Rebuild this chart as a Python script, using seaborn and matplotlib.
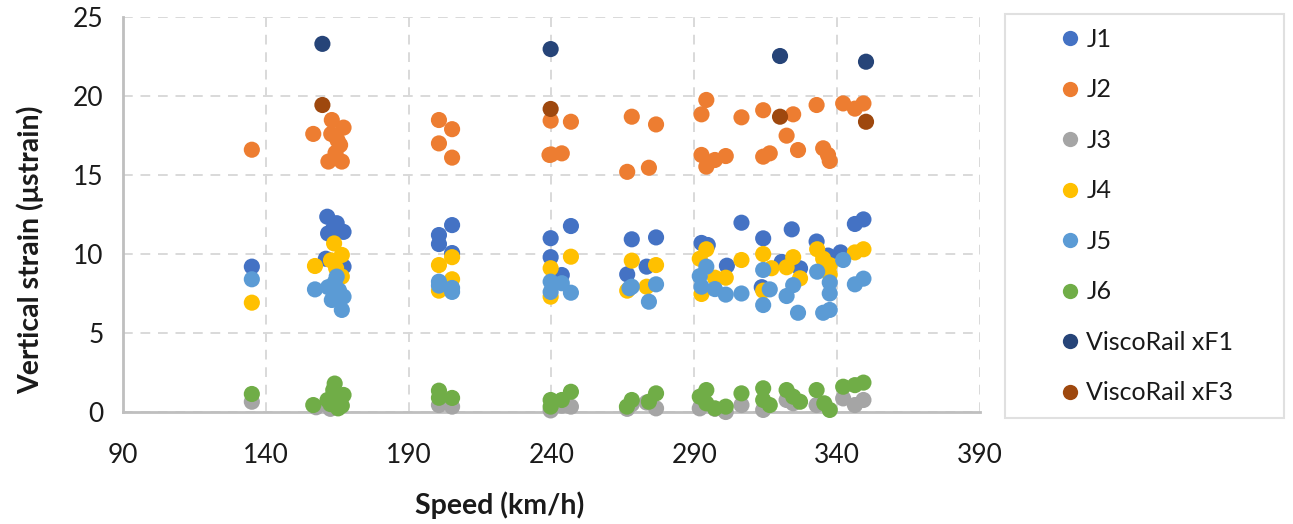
import numpy as np
import pandas as pd
import seaborn as sns
import matplotlib
matplotlib.use("Agg")
import matplotlib.pyplot as plt
from matplotlib.lines import Line2D

# ---- data ----
series_names = ["J1", "J2", "J3", "J4", "J5", "J6", "ViscoRail xF1", "ViscoRail xF3"]
series_colors = ["#4472C4", "#ED7D31", "#A5A5A5", "#FFC000", "#5B9BD5", "#70AD47", "#264478", "#9E480E"]

j1_speed = [135.1, 161.5, 164.8, 167.2, 161.8, 167.2, 161.0, 163.6, 165.6,
            200.6, 200.6, 205.2, 205.2, 239.7, 239.7, 243.6, 246.8,
            268.1, 276.6, 266.5, 273.3, 292.5, 294.7, 301.4, 306.5,
            314.1, 324.1, 332.8, 346.2, 349.2, 320.6, 327.0, 336.8, 341.2, 313.6]
j1_strain = [9.2, 12.36, 11.95, 11.4, 11.3, 9.2, 9.7, 11.6, 9.4,
             11.2, 10.63, 11.83, 10.06, 11.0, 9.8, 8.67, 11.77,
             10.93, 11.05, 8.71, 9.2, 10.7, 10.57, 9.26, 11.98,
             10.99, 11.56, 10.79, 11.9, 12.19, 9.5, 9.09, 9.9, 10.1, 7.9]

j2_speed = [135.1, 156.6, 163.1, 167.2, 162.9, 166.0, 161.9, 166.6, 164.4, 165.1,
            200.6, 200.6, 205.2, 205.2, 239.7, 239.3, 239.9, 243.6, 246.8,
            268.1, 276.6, 266.5, 274.1, 294.2, 292.5, 306.5, 292.5, 294.2, 297.2, 301.0,
            314.1, 324.6, 332.8, 342.1, 346.2, 349.2, 322.3, 314.1, 316.4, 326.3,
            335.1, 336.8, 337.4]
j2_strain = [16.6, 17.6, 18.48, 18.0, 17.6, 16.9, 15.85, 15.85, 16.4, 17.2,
             18.48, 17.0, 17.9, 16.1, 18.44, 16.27, 16.3, 16.37, 18.37,
             18.69, 18.2, 15.2, 15.46, 19.75, 18.84, 18.65, 16.27, 15.53, 15.95, 16.2,
             19.1, 18.84, 19.43, 19.53, 19.2, 19.53, 17.49, 16.16, 16.37, 16.58,
             16.69, 16.27, 15.89]

j3_speed = [135.1, 157.6, 162.6, 165.6, 200.6, 205.2, 239.7, 243.6, 246.8,
            266.5, 268.1, 273.3, 276.6, 291.9, 297.2, 301.0, 306.5,
            314.1, 322.3, 324.6, 332.8, 342.1, 346.2, 349.2]
j3_strain = [0.65, 0.3, 0.2, 0.3, 0.44, 0.34, 0.1, 0.4, 0.34,
             0.2, 0.5, 0.6, 0.23, 0.23, 0.2, 0.0, 0.44,
             0.13, 0.76, 0.55, 0.44, 0.86, 0.44, 0.76]

j4_speed = [135.1, 163.9, 157.2, 166.6, 162.8, 166.6, 164.6,
            200.6, 200.6, 205.2, 205.2, 239.7, 239.7, 246.8,
            268.1, 276.6, 266.5, 273.3, 294.2, 291.9, 301.0, 292.5, 306.5, 297.2,
            314.1, 317.0, 314.1, 322.3, 324.6, 327.0, 333.0, 335.1, 337.4, 337.4, 346.2, 349.2]
j4_strain = [6.92, 10.67, 9.24, 9.94, 9.6, 8.57, 9.1,
             9.3, 7.68, 9.8, 8.4, 9.1, 7.3, 9.83,
             9.58, 9.3, 7.68, 7.93, 10.3, 9.7, 8.5, 7.47, 9.62, 8.5,
             10.0, 9.1, 7.68, 9.16, 9.8, 8.46, 10.3, 9.7, 9.3, 8.7, 10.1, 10.3]

j5_speed = [135.1, 157.2, 164.8, 161.8, 167.2, 163.1, 166.6, 164.1, 165.6,
            200.6, 200.6, 205.2, 205.2, 239.7, 239.7, 243.6, 246.8,
            267.3, 268.1, 276.6, 274.1, 294.2, 291.9, 292.5, 297.2, 301.0, 306.5,
            314.1, 314.1, 316.4, 322.3, 324.6, 326.3, 333.0, 335.1, 337.4, 337.4, 337.4,
            342.1, 346.2, 349.2]
j5_strain = [8.4, 7.76, 8.57, 7.9, 7.3, 7.09, 6.46, 8.2, 7.7,
             8.25, 8.0, 7.85, 7.6, 8.25, 7.6, 8.15, 7.55,
             7.83, 7.93, 8.08, 6.98, 9.2, 8.6, 7.93, 7.78, 7.43, 7.5,
             8.99, 6.77, 7.76, 7.34, 8.03, 6.28, 8.88, 6.28, 6.46, 7.5, 8.2,
             9.62, 8.08, 8.44]

j6_speed = [135.1, 156.6, 163.6, 167.2, 161.6, 165.3, 162.6, 165.6, 164.1, 166.6,
            200.6, 200.6, 205.2, 239.7, 239.7, 243.6, 246.8,
            266.4, 268.1, 274.1, 276.6, 294.2, 291.9, 294.2, 297.2, 301.0, 306.5,
            314.1, 314.1, 316.4, 322.3, 324.6, 327.0, 332.8, 335.5, 337.4,
            342.1, 346.2, 349.2]
j6_strain = [1.14, 0.44, 1.39, 1.08, 0.76, 0.23, 0.5, 0.7, 1.8, 0.4,
             1.35, 0.9, 0.89, 0.34, 0.76, 0.76, 1.28,
             0.34, 0.76, 0.65, 1.18, 1.39, 0.97, 0.55, 0.23, 0.34, 1.18,
             1.5, 0.76, 0.44, 1.39, 0.97, 0.65, 1.39, 0.55, 0.13,
             1.6, 1.7, 1.86]

xf1_speed = [159.8, 239.7, 320.0, 350.1]
xf1_strain = [23.3, 22.97, 22.53, 22.17]

xf3_speed = [159.8, 239.7, 320.0, 350.1]
xf3_strain = [19.43, 19.18, 18.69, 18.37]

x_ticks = [90, 140, 190, 240, 290, 340, 390]
y_ticks = [0, 5, 10, 15, 20, 25]

# ---- build long table ----
speeds = [j1_speed, j2_speed, j3_speed, j4_speed, j5_speed, j6_speed, xf1_speed, xf3_speed]
strains = [j1_strain, j2_strain, j3_strain, j4_strain, j5_strain, j6_strain, xf1_strain, xf3_strain]
frames = []
for name, sp, st in zip(series_names, speeds, strains):
    frames.append(pd.DataFrame({"speed": sp, "strain": st, "series": name}))
df = pd.concat(frames, ignore_index=True)

sns.set_theme(style="white")
plt.rcParams["font.family"] = ["Lato", "DejaVu Sans"]

W, H = 1293, 524
fig = plt.figure(figsize=(W / 100, H / 100), dpi=100)
ax_l, ax_r, ax_t, ax_b = 123, 980, 17, 412
ax = fig.add_axes([ax_l / W, 1 - ax_b / H, (ax_r - ax_l) / W, (ax_b - ax_t) / H])

palette = dict(zip(series_names, series_colors))
sns.scatterplot(data=df, x="speed", y="strain", hue="series", hue_order=series_names,
                palette=palette, s=135, linewidth=0, legend=False, ax=ax, zorder=3,
                clip_on=False)

ax.set_xlim(90, 390)
ax.set_ylim(0, 25)
ax.set_xticks(x_ticks)
ax.set_yticks(y_ticks)
ax.tick_params(axis="both", length=0, labelsize=19, colors="#1a1a1a")
ax.tick_params(axis="y", pad=14)
ax.tick_params(axis="x", pad=22)

ax.grid(True, color="#D9D9D9", linestyle=(0, (5, 4)), linewidth=1.4, zorder=0)
ax.set_axisbelow(True)
for side in ["top", "right"]:
    ax.spines[side].set_visible(False)
for side in ["left", "bottom"]:
    ax.spines[side].set_color("#BFBFBF")
    ax.spines[side].set_linewidth(2)
    ax.spines[side].set_zorder(2)

ax.set_xlabel("Speed (km/h)", fontsize=20.5, fontweight="bold", color="#1a1a1a")
ax.set_ylabel("Vertical strain (μstrain)", fontsize=20.5, fontweight="bold", color="#1a1a1a")
ax.xaxis.set_label_coords((500 - ax_l) / (ax_r - ax_l), -(505 - ax_b) / (ax_b - ax_t))
ax.yaxis.set_label_coords(-(123 - 30) / (ax_r - ax_l), (ax_b - 250) / (ax_b - ax_t))
ax.xaxis.label.set_va("center")
ax.yaxis.label.set_va("center")

handles = [Line2D([0], [0], marker="o", linestyle="none", markersize=11,
                  markerfacecolor=c, markeredgewidth=0) for c in series_colors]
leg = fig.legend(handles, series_names, loc="upper left",
                 bbox_to_anchor=(1005 / W, 1 - 14 / H, (1284 - 1005) / W, 0),
                 mode="expand", fontsize=18, frameon=True, fancybox=False,
                 edgecolor="#D9D9D9", handlelength=4.1, handletextpad=-1.4,
                 labelspacing=1.1, borderpad=0.55, borderaxespad=0)
leg.get_frame().set_linewidth(1.5)
for t in leg.get_texts():
    t.set_color("#1a1a1a")

fig.savefig("out.png", dpi=100, facecolor="white")
